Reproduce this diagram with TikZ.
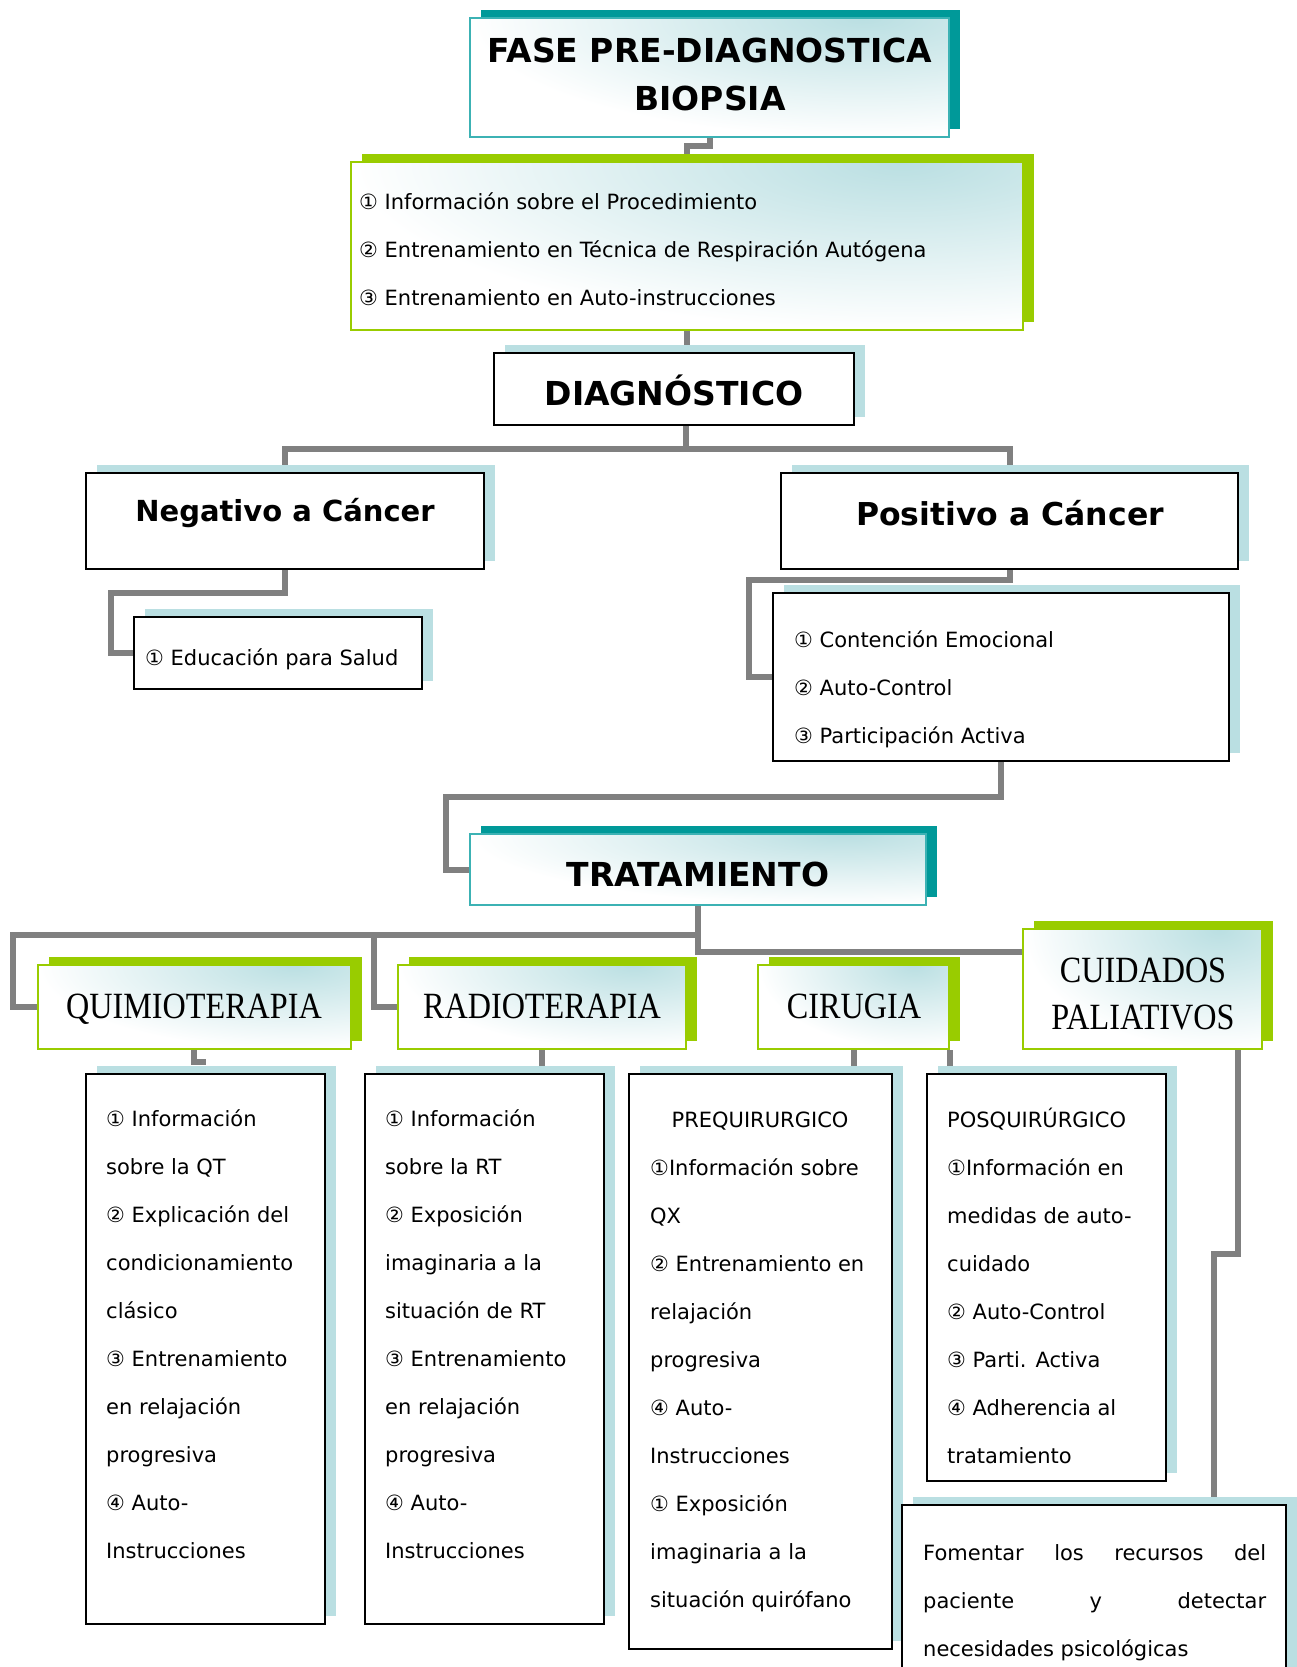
\documentclass[tikz,border=0pt]{standalone}
\usepackage{fontspec}
\setmainfont{DejaVu Sans}
\newfontfamily\titlefont[FakeStretch=0.87]{Liberation Serif}
\usetikzlibrary{fit,shadows,backgrounds,calc}
\definecolor{tealdark}{RGB}{0,153,153}
\definecolor{tealline}{RGB}{60,178,180}
\definecolor{limegreen}{RGB}{153,204,0}
\definecolor{paleblue}{RGB}{186,223,226}
\definecolor{conngray}{RGB}{128,128,128}
\pgfdeclarelayer{bgzero}
\pgfsetlayers{bgzero,background,main}
\tikzset{
  gradfill/.style={fill=white, path picture={
    \shade[inner color=paleblue, outer color=white]
      (path picture bounding box.south west) rectangle
      ($(path picture bounding box.south west)!2!($(path picture bounding box.north west)!0.82!(path picture bounding box.north east)$)$);}},
  tealbox/.style={inner sep=0, draw=tealline, line width=2pt, gradfill,
    general shadow={fill=tealdark, shadow xshift=11pt, shadow yshift=8pt}},
  greenbox/.style={inner sep=0, draw=limegreen, line width=2pt, gradfill,
    general shadow={fill=limegreen, shadow xshift=11pt, shadow yshift=8pt}},
  plainbox/.style={inner sep=0, draw=black, line width=2pt, fill=white,
    general shadow={fill=paleblue, shadow xshift=11pt, shadow yshift=8pt}},
  conn/.style={draw=conngray, line width=6pt},
  head/.style={inner sep=0, anchor=base, font=\bfseries\fontsize{33}{40}\selectfont},
  ttl/.style={inner sep=0, anchor=base, font=\titlefont\fontsize{37}{44}\selectfont},
  body/.style={inner sep=0, anchor=base west, font=\fontsize{21}{25}\selectfont},
}
\begin{document}
\begin{tikzpicture}[x=1pt,y=-1pt]
\begin{pgfonlayer}{bgzero}
\fill[white] (0,0) rectangle (1297,1667);
\end{pgfonlayer}
\useasboundingbox (0,0) rectangle (1297,1667);

% boxes
\node[tealbox, fit={(470,18) (949,137)}] (fase) {};
\node[greenbox, fit={(351,162) (1023,330)}] (lst1) {};
\node[plainbox, fit={(494,353) (854,425)}] (diag) {};
\node[plainbox, fit={(86,473) (484,569)}] (neg) {};
\node[plainbox, fit={(781,473) (1238,569)}] (pos) {};
\node[plainbox, fit={(134,617) (422,689)}] (edu) {};
\node[plainbox, fit={(773,593) (1229,761)}] (posl) {};
\node[tealbox, fit={(470,834) (926,905)}] (trat) {};
\node[greenbox, fit={(38,965) (351,1049)}] (quim) {};
\node[greenbox, fit={(398,965) (686,1049)}] (radi) {};
\node[greenbox, fit={(758,965) (949,1049)}] (ciru) {};
\node[greenbox, fit={(1023,929) (1262,1049)}] (cuid) {};
\node[plainbox, fit={(86,1074) (325,1624)}] (qtc) {};
\node[plainbox, fit={(365,1074) (604,1624)}] (rtc) {};
\node[plainbox, fit={(629,1074) (892,1649)}] (pre) {};
\node[plainbox, fit={(927,1074) (1166,1481)}] (posq) {};
\node[plainbox, fit={(902,1505) (1286,1700)}] (fom) {};

% connector bend points
\coordinate (c1) at (687,146);
\coordinate (d1) at (686,449);
\coordinate (n1) at (111,593);
\coordinate (p1) at (749,580);
\coordinate (p2) at (446,797);
\coordinate (t1) at (698,935);
\coordinate (t2) at (13,935);
\coordinate (t3) at (374,935);
\coordinate (t4) at (698,952);
\coordinate (q0) at (194,1062);
\coordinate (q1) at (206,1062);
\coordinate (u1) at (1238,1049);
\coordinate (u2) at (1214,1254);

\begin{pgfonlayer}{background}
\draw[conn] (fase.south) |- (c1) -- (c1 |- lst1.north);
\draw[conn] (lst1.south) -- (lst1.south |- diag.north);
\draw[conn] (diag.south -| d1) -- (d1);
\draw[conn] (neg.north) |- (d1) -| (pos.north);
\draw[conn] (neg.south) |- (n1) |- (edu.west);
\draw[conn] (pos.south) |- (p1) |- (posl.west);
\draw[conn] (posl.south) |- (p2) |- (trat.west);
\draw[conn] (trat.south) -- (t4) -- (t4 -| cuid.west);
\draw[conn] (t1) -- (t2) |- (quim.west);
\draw[conn] (t3) |- (radi.west);
\draw[conn] (quim.south -| q0) -- (q0) -- (q1);
\draw[conn] (radi.south) -- (radi.south |- rtc.north);
\draw[conn] (ciru.south) -- (ciru.south |- pre.north);
\draw[conn] (ciru.south east) -- (ciru.south east |- posq.north);
\draw[conn] (u1) |- (u2) -- (u2 |- fom.north);
\end{pgfonlayer}

% texts
\node[head] (faseA) at (710,63) {FASE PRE-DIAGNOSTICA};
\node[head] (faseB) at (710,111) {BIOPSIA};
\node[head] (diagT) at (674,405) {DIAGNÓSTICO};
\node[head, font=\bfseries\fontsize{29}{35}\selectfont] (negT) at (285,521) {Negativo a Cáncer};
\node[head, font=\bfseries\fontsize{31.5}{38}\selectfont] (posT) at (1010,525) {Positivo a Cáncer};
\node[head] (tratT) at (698,886) {TRATAMIENTO};
\node[ttl] (quimT) at (194,1018) {QUIMIOTERAPIA};
\node[ttl] (radiT) at (542,1018) {RADIOTERAPIA};
\node[ttl] (ciruT) at (854,1018) {CIRUGIA};
\node[ttl] (cuidA) at (1143,982) {CUIDADOS};
\node[ttl] (cuidB) at (1143,1029) {PALIATIVOS};

\foreach \txt [count=\i] in {{① Información sobre el Procedimiento},{② Entrenamiento en Técnica de Respiración Autógena},{③ Entrenamiento en Auto-instrucciones}}
  \node[body] (la-\i) at (359,{209+48*(\i-1)}) {\txt};

\node[body] (eduT) at (145,665) {① Educación para Salud};

\foreach \txt [count=\i] in {{① Contención Emocional},{② Auto-Control},{③ Participación Activa}}
  \node[body] (lb-\i) at (794,{647+48*(\i-1)}) {\txt};

\foreach \txt [count=\i] in {{① Información},{sobre la QT},{② Explicación del},{condicionamiento},{clásico},{③ Entrenamiento},{en relajación},{progresiva},{④ Auto-},{Instrucciones}}
  \node[body] (lq-\i) at (106,{1126+48*(\i-1)}) {\txt};

\foreach \txt [count=\i] in {{① Información},{sobre la RT},{② Exposición},{imaginaria a la},{situación de RT},{③ Entrenamiento},{en relajación},{progresiva},{④ Auto-},{Instrucciones}}
  \node[body] (lr-\i) at (385,{1126+48*(\i-1)}) {\txt};

\node[body, anchor=base] (preT) at (760,1127) {PREQUIRURGICO};
\foreach \txt [count=\i] in {{①Información sobre},{QX},{② Entrenamiento en},{relajación},{progresiva},{④ Auto-},{Instrucciones},{① Exposición},{imaginaria a la},{situación quirófano}}
  \node[body] (lp-\i) at (650,{1175+48*(\i-1)}) {\txt};

\foreach \txt [count=\i] in {{POSQUIRÚRGICO},{①Información en},{medidas de auto-},{cuidado},{② Auto-Control},{③ Parti. Activa},{④ Adherencia al},{tratamiento}}
  \node[body] (ls-\i) at (947,{1127+48*(\i-1)}) {\txt};

\node[body] (fomA) at (923,1560) {\hbox to 343pt{Fomentar\hfill los\hfill recursos\hfill del}};
\node[body] (fomB) at (923,1608) {\hbox to 343pt{paciente\hfill y\hfill detectar}};
\node[body] (fomC) at (923,1656) {necesidades psicológicas};
\end{tikzpicture}
\end{document}
